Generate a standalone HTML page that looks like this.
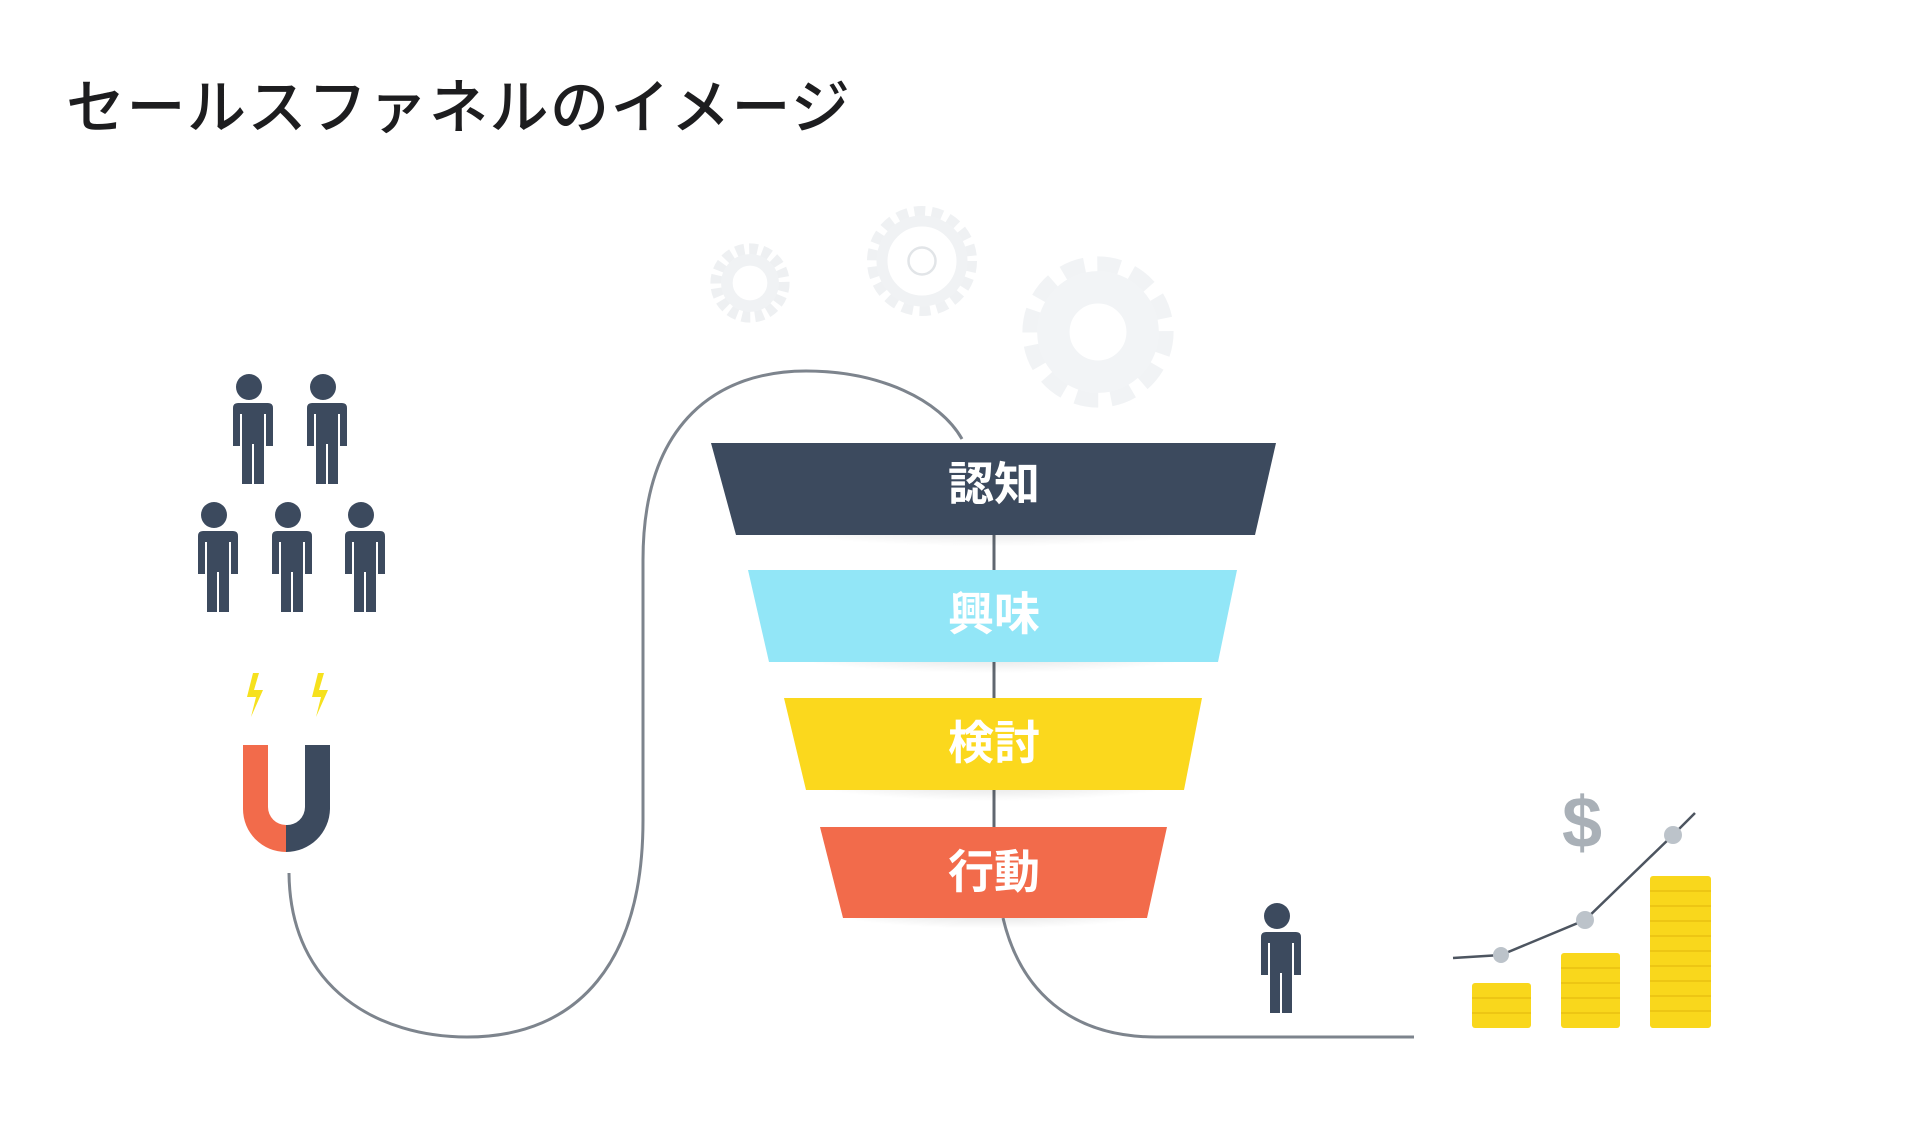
<!DOCTYPE html>
<html><head><meta charset="utf-8"><style>
html,body{margin:0;padding:0;background:#fff;}
body{width:1920px;height:1147px;overflow:hidden;position:relative;font-family:"Liberation Sans","Noto Sans CJK JP",sans-serif;}
.t{position:absolute;left:66px;top:60px;font-size:59px;font-weight:500;color:#1d1d1f;letter-spacing:1.5px;white-space:nowrap;}
</style></head><body>
<div class="t">セールスファネルのイメージ</div>
<svg width="1920" height="1147" style="position:absolute;left:0;top:0">
<defs>
<g id="p"><circle cx="0" cy="0" r="13" fill="#3c4a5e"/><path d="M-19 16 h38 q5 0 5 5 v38 h-7 v-32 h-2 v70 h-10 v-40 h-2 v40 h-10 v-70 h-2 v32 h-7 v-38 q0-5 5-5z" fill="#3c4a5e"/></g>
<radialGradient id="sh" cx="0.5" cy="0" r="0.6"><stop offset="0" stop-color="#000" stop-opacity="0.16"/><stop offset="1" stop-color="#000" stop-opacity="0"/></radialGradient>
</defs>
<!-- gears -->
<g transform="translate(750,283) scale(33)"><circle r="1" fill="none" stroke="#eef0f2" stroke-width="0.4" stroke-dasharray="0.25 0.14"/><circle r="0.7" fill="none" stroke="#f0f2f4" stroke-width="0.35"/></g>
<g transform="translate(922,261) scale(50)"><circle r="1" fill="none" stroke="#eff1f3" stroke-width="0.2" stroke-dasharray="0.22 0.13"/><circle r="0.8" fill="none" stroke="#f0f2f4" stroke-width="0.22"/><circle r="0.27" fill="none" stroke="#e2e5e8" stroke-width="0.05"/></g>
<g transform="translate(1098,332) scale(72)"><circle r="0.9" fill="none" stroke="#f1f3f5" stroke-width="0.3" stroke-dasharray="0.3 0.17"/><circle r="0.62" fill="none" stroke="#f2f4f6" stroke-width="0.45"/></g>
<!-- curve -->
<path d="M289 873 C290 990 380 1037 467 1037 C580 1037 643 960 643 820 L643 560 C643 420 720 371 806 371 C880 371 940 400 962 439" fill="none" stroke="#7d848d" stroke-width="3"/>
<line x1="994" y1="535" x2="994" y2="827" stroke="#606770" stroke-width="3"/>
<path d="M1003 918 C1020 990 1070 1037 1156 1037 L1414 1037" fill="none" stroke="#7d848d" stroke-width="3"/>
<!-- shadows -->
<ellipse cx="994" cy="542" rx="210" ry="22" fill="url(#sh)"/>
<ellipse cx="994" cy="669" rx="190" ry="20" fill="url(#sh)"/>
<ellipse cx="994" cy="797" rx="170" ry="20" fill="url(#sh)"/>
<ellipse cx="994" cy="925" rx="150" ry="18" fill="url(#sh)"/>
<!-- funnel -->
<polygon points="711,443 1276,443 1255,535 736,535" fill="#3c4a5e"/>
<polygon points="748,570 1237,570 1218,662 769,662" fill="#92e6f7"/>
<polygon points="784,698 1202,698 1184,790 806,790" fill="#fbd81d"/>
<polygon points="820,827 1167,827 1147,918 843,918" fill="#f26b4b"/>
<g font-family="'Liberation Sans','Noto Sans CJK JP',sans-serif" font-weight="bold" font-size="46" fill="#fff" text-anchor="middle">
<text x="994" y="500">認知</text>
<text x="994" y="630">興味</text>
<text x="994" y="759">検討</text>
<text x="994" y="888">行動</text>
</g>
<!-- people -->
<use href="#p" x="249" y="387"/><use href="#p" x="323" y="387"/>
<use href="#p" x="214" y="515"/><use href="#p" x="288" y="515"/><use href="#p" x="361" y="515"/>
<use href="#p" x="1277" y="916"/>
<!-- lightning -->
<path d="M253 673 L247 697 L256 697 L251 717 L263 690 L254 690 L259 673z" fill="#f6e11d"/>
<path d="M318 673 L312 697 L321 697 L316 717 L328 690 L319 690 L324 673z" fill="#f6e11d"/>
<!-- magnet -->
<path d="M243 745 h25 v62 a18 18 0 0 0 18 18 v27 a43 43 0 0 1 -43 -43z" fill="#f26b4b"/>
<path d="M330 745 h-25 v62 a18 18 0 0 1 -19 18 v27 a44 44 0 0 0 44 -43z" fill="#3c4a5e"/>
<!-- coins -->
<g fill="#f9d71c">
<rect x="1472" y="983" width="59" height="45" rx="3"/>
<rect x="1561" y="953" width="59" height="75" rx="3"/>
<rect x="1650" y="876" width="61" height="152" rx="3"/>
</g>
<g stroke="#e3b80e" stroke-width="1.5" opacity="0.7">
<path d="M1472 998h59M1472 1013h59M1561 968h59M1561 983h59M1561 998h59M1561 1013h59"/>
<path d="M1650 891h61M1650 906h61M1650 921h61M1650 936h61M1650 951h61M1650 966h61M1650 981h61M1650 996h61M1650 1011h61"/>
</g>
<polyline points="1453,958 1501,955 1585,920 1673,835 1695,813" fill="none" stroke="#4d5560" stroke-width="2.5"/>
<g fill="#bcc3ca"><circle cx="1501" cy="955" r="8"/><circle cx="1585" cy="920" r="9"/><circle cx="1673" cy="835" r="9"/></g>
<text x="1582" y="847" font-family="'Liberation Sans',sans-serif" font-weight="bold" font-size="72" fill="#a9b0b7" text-anchor="middle">$</text>
</svg>
</body></html>
